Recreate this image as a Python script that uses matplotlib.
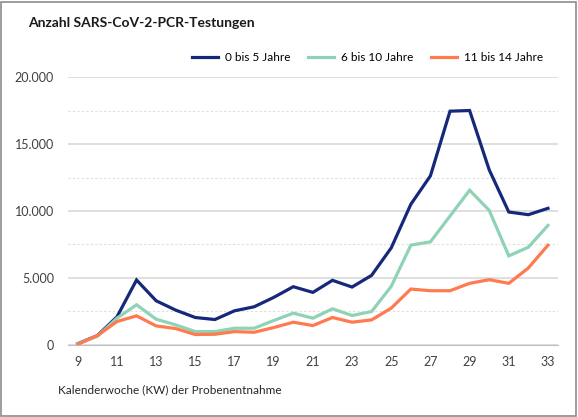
import matplotlib.pyplot as plt
import matplotlib.ticker as mticker
from matplotlib.patches import Rectangle

plt.rcParams['font.family'] = ['Lato', 'DejaVu Sans']

# Kalenderwochen 9 bis 33
weeks = list(range(9, 34))
age_0_5 = [100, 700, 2100, 4850, 3300, 2600, 2050, 1900, 2550, 2850, 3550, 4350,
           3925, 4825, 4325, 5200, 7250, 10500, 12625, 17450, 17500, 13075, 9925, 9725, 10200]
age_6_10 = [100, 650, 2000, 3000, 1925, 1500, 1000, 1000, 1250, 1250, 1825, 2375,
            2000, 2700, 2200, 2500, 4375, 7450, 7700, 9625, 11550, 10050, 6650, 7300, 8925]
age_11_14 = [50, 700, 1750, 2175, 1425, 1225, 780, 800, 1000, 950, 1300, 1700,
             1450, 2050, 1700, 1875, 2750, 4175, 4050, 4050, 4600, 4875, 4600, 5750, 7450]
labels = ['0 bis 5 Jahre', '6 bis 10 Jahre', '11 bis 14 Jahre']
colors = ['#16287a', '#8fd3b6', '#ff7a4f']

fig = plt.figure(figsize=(5.78, 4.17), dpi=100)
ax = fig.add_axes([0.1176, 0.1727, 0.8474, 0.6426])

for vals, lab, col in zip([age_0_5, age_6_10, age_11_14], labels, colors):
    ax.plot(weeks, vals, color=col, lw=2.3, label=lab, solid_joinstyle='miter')

ax.set_xlim(8.5, 33.5)
ax.set_ylim(0, 20000)
ax.set_xticks(range(9, 34, 2))
ax.yaxis.set_major_locator(mticker.MultipleLocator(5000))
ax.yaxis.set_minor_locator(mticker.MultipleLocator(2500))
ax.yaxis.set_major_formatter(mticker.FuncFormatter(lambda v, p: f'{int(v):,}'.replace(',', '.')))
ax.grid(axis='y', which='major', color='#d9d9d9', lw=1.2)
ax.grid(axis='y', which='minor', color='#dedede', lw=0.8, ls=(0, (2, 2)))
ax.set_axisbelow(True)
for s in ['top', 'right', 'left']:
    ax.spines[s].set_visible(False)
ax.spines['bottom'].set_color('#bfbfbf')
ax.tick_params(axis='both', which='both', length=0, labelsize=9, colors='#404040')
ax.tick_params(axis='x', pad=8)
ax.tick_params(axis='y', pad=10)

fig.text(0.048, 0.945, 'Anzahl SARS-CoV-2-PCR-Testungen', fontsize=10, fontweight='bold',
         color='#1a1a1a', va='center')
fig.text(0.1, 0.065, 'Kalenderwoche (KW) der Probenentnahme', fontsize=8.5,
         color='#262626', va='center')

ax.legend(loc='lower right', bbox_to_anchor=(1.0, 1.0), ncol=3, frameon=False,
          fontsize=8.5, handlelength=2.2, columnspacing=1.5, handletextpad=0.6,
          borderaxespad=0.8)

fig.patches.append(Rectangle((0.002, 0.003), 0.995, 0.993, transform=fig.transFigure,
                             fill=False, edgecolor='#8c8c8c', lw=1.2))

fig.savefig('out.png', dpi=100)
